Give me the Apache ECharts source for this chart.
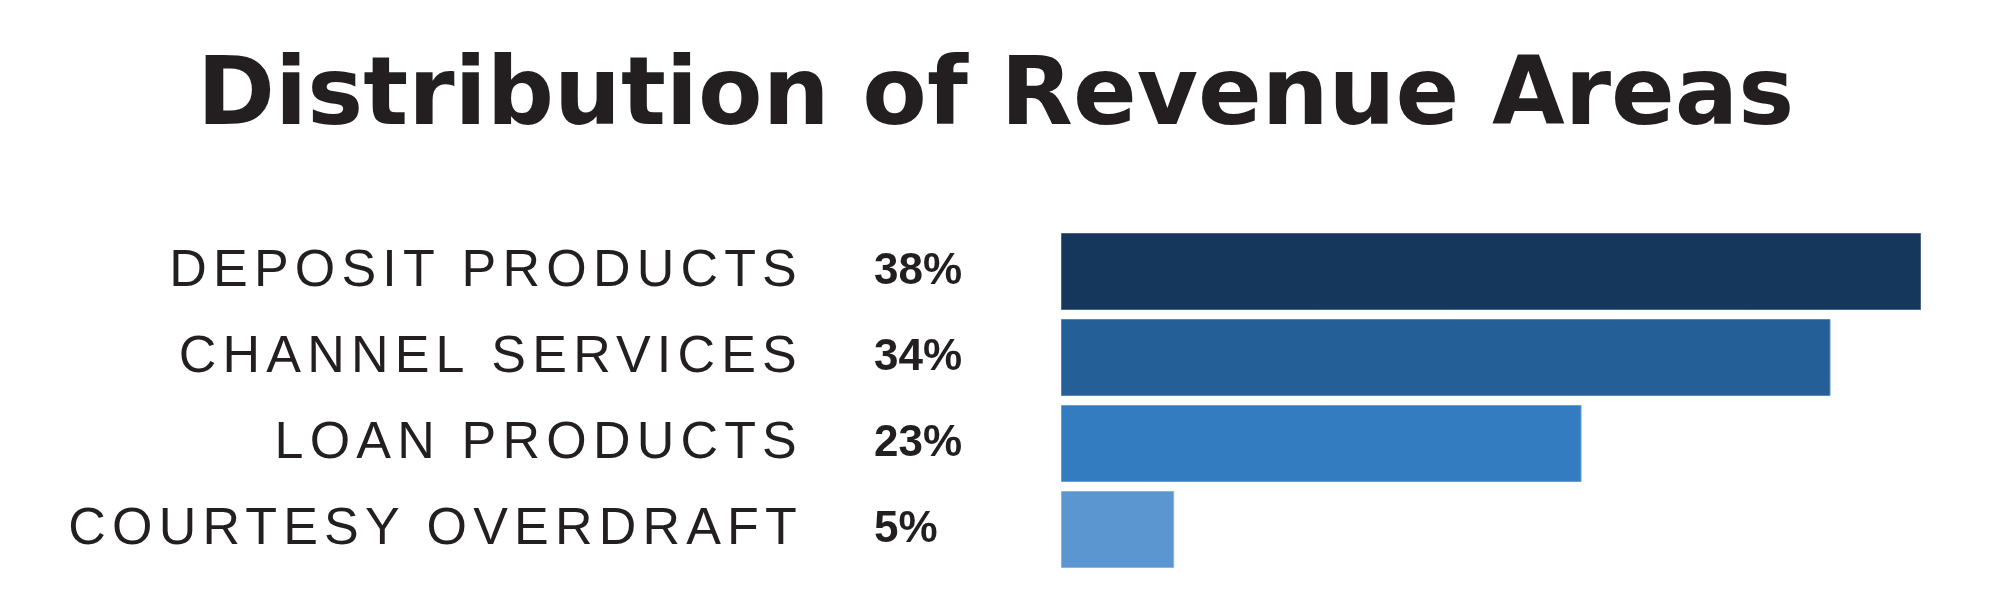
<!DOCTYPE html>
<html>
<head>
<meta charset="utf-8">
<script src="https://cdn.jsdelivr.net/npm/echarts@6/dist/echarts.min.js"></script>
<style>
  html, body { margin: 0; padding: 0; background: #ffffff; }
  #chart { width: 2000px; height: 610px; }
</style>
</head>
<body>
<div id="chart"></div>
<script>
// ---- data ----
const titleText = 'Distribution of Revenue Areas';
const categories = ['DEPOSIT PRODUCTS', 'CHANNEL SERVICES', 'LOAN PRODUCTS', 'COURTESY OVERDRAFT'];
const shares = [38, 34, 23, 5];

// ---- styles ----
const palette = ['#15375c', '#245f98', '#347cc0', '#5b96d0'];
const borders = ['#4a6585', '#5a86b3', '#6a9ed0', '#8ab4de'];
const inkColor = '#231f20';
const TITLE_SIZE = 94;
const LABEL_SIZE = 52;
const PCT_SIZE = 44;

// wide tracking of the category labels, like the reference typesetting
const origFill = CanvasRenderingContext2D.prototype.fillText;
CanvasRenderingContext2D.prototype.fillText = function (t, x, y, w) {
  const f = this.font || '';
  let sp = '0px';
  if (f.indexOf(LABEL_SIZE + 'px') >= 0 && f.indexOf('bold') < 0) sp = '6.2px';
  if ('letterSpacing' in this) this.letterSpacing = sp;
  const r = w === undefined ? origFill.call(this, t, x, y) : origFill.call(this, t, x, y, w);
  if ('letterSpacing' in this) this.letterSpacing = '0px';
  return r;
};

const chart = echarts.init(document.getElementById('chart'), null, { renderer: 'canvas' });
chart.setOption({
  backgroundColor: '#ffffff',
  animation: false,
  title: {
    text: titleText,
    left: 192,
    top: 48,
    textStyle: {
      fontFamily: 'DejaVu Sans, sans-serif',
      fontWeight: 'bold',
      fontSize: TITLE_SIZE,
      color: inkColor
    }
  },
  grid: { left: 1061, right: 79, top: 228.5, bottom: 37.5, containLabel: false },
  xAxis: {
    type: 'value',
    min: 0,
    max: 38,
    show: false
  },
  yAxis: [
    {
      type: 'category',
      data: categories,
      inverse: true,
      position: 'left',
      axisLine: { show: false },
      axisTick: { show: false },
      axisLabel: {
        margin: 258,
        fontFamily: 'Liberation Sans, Arial, sans-serif',
        fontSize: LABEL_SIZE,
        color: inkColor
      }
    },
    {
      type: 'category',
      data: categories,
      inverse: true,
      position: 'left',
      offset: 0,
      axisLine: { show: false },
      axisTick: { show: false },
      axisLabel: {
        margin: 187,
        align: 'left',
        formatter: (v, i) => shares[i] + '%',
        fontFamily: 'Liberation Sans, Arial, sans-serif',
        fontWeight: 'bold',
        fontSize: PCT_SIZE,
        color: inkColor
      }
    }
  ],
  series: [{
    type: 'bar',
    yAxisIndex: 0,
    barCategoryGap: '10.5%',
    data: shares.map((v, i) => ({
      value: v,
      itemStyle: { color: palette[i], borderColor: borders[i], borderWidth: 1 }
    })),
    label: { show: false },
    silent: true
  }]
});
</script>
</body>
</html>
